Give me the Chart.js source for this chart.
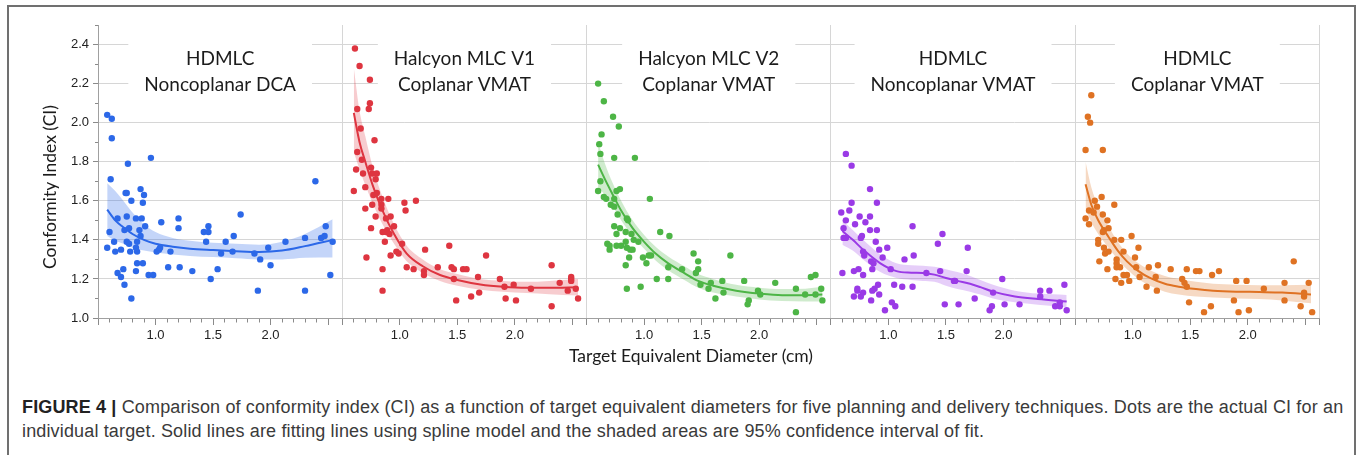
<!DOCTYPE html>
<html>
<head>
<meta charset="utf-8">
<title>Conformity index vs target equivalent diameter</title>
<script src="https://cdn.jsdelivr.net/npm/chart.js@4.4.1/dist/chart.umd.min.js"></script>
<style>
  html, body { margin: 0; padding: 0; background: #fff; overflow: hidden; }
  #wrap { position: relative; width: 1357px; height: 455px; }
  #chart { position: absolute; left: 0; top: 0; }
  #frame { position: absolute; left: 7px; top: 5px; width: 1345px; height: 470px;
           border: 2px solid #707070; pointer-events: none; }
  #caption { position: absolute; left: 22px; top: 395px; white-space: nowrap; letter-spacing: 0.15px;
             font: 18px/24px 'Liberation Sans', Arial, sans-serif; color: #3a3a3a; }
  #caption b { color: #222; }
</style>
</head>
<body>
<div id="wrap">
  <canvas id="chart" width="1357" height="372"></canvas>
  <div id="caption"><b>FIGURE 4 |</b> Comparison of conformity index (CI) as a function of target equivalent diameters for five planning and delivery techniques. Dots are the actual CI for an<br>individual target. Solid lines are fitting lines using spline model and the shaded areas are 95% confidence interval of fit.</div>
  <div id="frame"></div>
</div>
<script>
/**
 * Five side-by-side panels (one stacked x axis each) sharing one CI axis.
 * Values below.
 */

const X_MIN = 0.5;
const X_MAX = 2.624;

// --- HDMLC, noncoplanar DCA ---
const dcaDotX = [0.58,0.62,0.62,0.61,0.60,0.58,0.64,0.65,0.67,0.67, 0.70,0.70,0.72,0.73,0.73,0.74,0.75,0.75,0.75,0.76,
  0.77,0.77,0.78,0.79,0.79,0.83,0.83,0.83,0.84,0.84, 0.84,0.86,0.87,0.87,0.88,0.89,0.89,0.90,0.91,0.94,
  0.96,0.98,1.01,1.03,1.04,1.05,1.11,1.13,1.20,1.20, 1.21,1.32,1.42,1.44,1.46,1.46,1.48,1.54,1.57,1.61,
  1.67,1.68,1.74,1.86,1.89,1.91,1.98,2.00,2.13,2.30, 2.30,2.39,2.44,2.47,2.48,2.52,2.54];
const dcaDotY = [2.04,2.02,1.92,1.71,1.44,1.36,1.39,1.34,1.51,1.23, 1.21,1.35,1.25,1.17,1.45,1.64,1.64,1.52,1.39,1.79,
  1.46,1.38,1.34,1.60,1.10,1.36,1.51,1.24,1.28,1.39, 1.34,1.45,1.66,1.42,1.51,1.59,1.28,1.63,1.47,1.22,
  1.82,1.22,1.34,1.35,1.36,1.49,1.26,1.34,1.51,1.46, 1.26,1.24,1.44,1.39,1.47,1.44,1.20,1.25,1.33,1.39,
  1.34,1.42,1.53,1.33,1.14,1.30,1.36,1.27,1.39,1.41, 1.14,1.70,1.41,1.42,1.47,1.22,1.39];
const dcaFitX  = [0.58,0.65,0.72,0.80,0.90,1.00,1.15,1.30,1.50,1.70,1.90,2.10,2.30,2.54];
const dcaFitY  = [1.555,1.50,1.465,1.43,1.40,1.38,1.365,1.355,1.348,1.342,1.338,1.345,1.368,1.40];
const dcaFitHi = [1.69,1.65,1.60,1.54,1.48,1.44,1.41,1.395,1.385,1.38,1.375,1.39,1.43,1.505];
const dcaFitLo = [1.42,1.395,1.38,1.36,1.345,1.335,1.325,1.318,1.312,1.306,1.30,1.30,1.308,1.31];

// --- Halcyon MLC V1, coplanar VMAT ---
const v1DotX = [0.61,0.65,0.74,0.74,0.73,0.63,0.66,0.78,0.63,0.67, 0.62,0.68,0.75,0.76,0.80,0.79,0.70,0.60,0.80,0.77,
  0.84,0.90,1.14,1.04,0.76,0.84,0.70,1.05,0.79,0.92, 0.88,0.84,0.75,0.89,0.85,0.88,0.91,0.95,0.87,0.71,
  0.92,0.97,0.99,1.02,0.85,1.06,1.12,1.22,1.21,1.21, 1.33,1.43,1.45,1.47,1.47,1.55,1.58,0.85,1.49,1.62,
  1.68,1.69,1.75,1.87,1.91,1.92,1.99,2.01,2.14,2.32, 2.32,2.39,2.49,2.49,2.49,2.46,2.53,2.55];
const v1DotY = [2.38,2.29,2.22,2.10,2.07,2.07,1.97,1.91,1.85,1.81, 1.76,1.74,1.77,1.74,1.74,1.71,1.67,1.65,1.64,1.63,
  1.61,1.61,1.60,1.59,1.58,1.58,1.56,1.55,1.52,1.52, 1.51,1.56,1.46,1.45,1.44,1.44,1.43,1.47,1.39,1.31,
  1.32,1.34,1.33,1.38,1.25,1.26,1.25,1.35,1.24,1.22, 1.26,1.37,1.26,1.25,1.20,1.25,1.25,1.14,1.09,1.11,
  1.21,1.13,1.32,1.20,1.16,1.10,1.17,1.09,1.15,1.27, 1.06,1.18,1.21,1.20,1.19,1.14,1.15,1.10];
const v1FitX  = [0.60,0.65,0.70,0.77,0.85,0.95,1.06,1.20,1.35,1.50,1.70,1.90,2.10,2.30,2.55];
const v1FitY  = [2.05,1.90,1.80,1.67,1.55,1.43,1.33,1.265,1.22,1.195,1.172,1.16,1.155,1.155,1.158];
const v1FitHi = [2.28,2.06,1.93,1.76,1.62,1.48,1.37,1.30,1.25,1.225,1.20,1.19,1.185,1.19,1.20];
const v1FitLo = [1.85,1.76,1.68,1.58,1.48,1.38,1.29,1.23,1.19,1.165,1.145,1.135,1.128,1.122,1.115];

// --- Halcyon MLC V2, coplanar VMAT ---
const v2DotX = [0.60,0.65,0.73,0.78,0.63,0.61,0.62,0.74,0.92,0.62, 0.60,0.65,0.67,0.71,0.74,0.76,0.79,0.74,0.77,0.85,
  0.86,1.05,0.74,0.79,0.76,0.84,0.89,0.91,0.95,1.14, 1.22,0.68,0.70,0.76,0.80,0.84,0.85,0.88,0.90,0.70,
  0.99,1.04,1.06,0.87,0.84,1.02,1.21,1.33,1.11,1.21, 0.85,0.97,1.43,1.47,1.47,1.45,1.49,1.56,1.58,1.62,
  1.68,1.69,1.75,1.87,1.91,1.90,1.99,2.01,2.14,2.32, 2.32,2.40,2.45,2.49,2.49,2.54,2.55];
const v2DotY = [2.20,2.11,2.03,1.98,1.94,1.89,1.84,1.82,1.82,1.70, 1.65,1.62,1.61,1.58,1.61,1.65,1.66,1.57,1.53,1.51,
  1.50,1.61,1.47,1.46,1.43,1.44,1.43,1.40,1.39,1.44, 1.42,1.38,1.37,1.37,1.37,1.39,1.36,1.35,1.35,1.35,
  1.31,1.32,1.32,1.31,1.27,1.28,1.26,1.25,1.20,1.20, 1.15,1.16,1.33,1.29,1.25,1.23,1.17,1.15,1.18,1.10,
  1.19,1.13,1.32,1.19,1.09,1.07,1.14,1.12,1.18,1.15, 1.03,1.12,1.21,1.22,1.12,1.15,1.09];
const v2FitX  = [0.60,0.66,0.72,0.80,0.90,1.00,1.10,1.21,1.35,1.47,1.60,1.80,2.00,2.20,2.40,2.55];
const v2FitY  = [1.785,1.71,1.64,1.55,1.46,1.39,1.33,1.28,1.23,1.19,1.165,1.14,1.125,1.117,1.117,1.12];
const v2FitHi = [1.90,1.79,1.70,1.60,1.50,1.425,1.365,1.315,1.265,1.225,1.20,1.17,1.155,1.148,1.15,1.16];
const v2FitLo = [1.67,1.63,1.58,1.50,1.42,1.355,1.295,1.245,1.195,1.155,1.13,1.11,1.095,1.087,1.085,1.085];

// --- HDMLC, noncoplanar VMAT ---
const ncDotX = [0.63,0.68,0.84,0.68,0.90,0.59,0.66,0.63,0.84,0.75, 0.80,0.71,0.61,0.61,0.63,0.76,0.77,0.84,0.90,0.89,
  0.92,0.78,0.79,0.99,0.95,0.85,0.87,0.86,1.14,1.22, 1.21,1.47,1.43,1.69,1.02,0.60,0.70,0.74,0.78,1.33,
  1.45,1.68,1.57,1.58,0.91,0.88,0.86,1.05,1.12,1.21, 0.73,0.73,0.70,0.76,0.78,0.85,0.92,1.03,1.06,0.97,
  1.49,1.61,1.75,1.91,1.99,2.01,2.14,1.90,1.88,2.32, 2.40,2.32,2.45,2.49,2.49,2.53,2.55];
const ncDotY = [1.84,1.78,1.66,1.59,1.59,1.54,1.55,1.50,1.52,1.52, 1.49,1.48,1.46,1.41,1.41,1.41,1.42,1.45,1.45,1.39,
  1.35,1.34,1.32,1.36,1.31,1.29,1.28,1.25,1.30,1.32, 1.47,1.43,1.38,1.36,1.25,1.23,1.24,1.25,1.22,1.23,
  1.24,1.24,1.19,1.19,1.17,1.15,1.14,1.17,1.16,1.16, 1.15,1.14,1.11,1.11,1.13,1.09,1.12,1.08,1.06,1.04,
  1.07,1.07,1.10,1.13,1.20,1.07,1.07,1.06,1.04,1.14, 1.14,1.11,1.06,1.06,1.08,1.17,1.04];
const ncFitX  = [0.60,0.69,0.78,0.93,1.07,1.20,1.30,1.40,1.50,1.60,1.71,1.80,1.91,2.10,2.30,2.55];
const ncFitY  = [1.445,1.40,1.35,1.28,1.24,1.232,1.23,1.222,1.205,1.19,1.175,1.158,1.135,1.11,1.097,1.085];
const ncFitHi = [1.50,1.45,1.40,1.325,1.28,1.27,1.268,1.262,1.25,1.235,1.215,1.195,1.17,1.14,1.125,1.118];
const ncFitLo = [1.375,1.345,1.30,1.235,1.205,1.195,1.19,1.185,1.165,1.148,1.135,1.12,1.10,1.08,1.068,1.055];

// --- HDMLC, coplanar VMAT ---
const cpDotX = [0.64,0.61,0.63,0.59,0.74,0.73,0.67,0.84,0.62,0.66, 0.69,0.74,0.59,0.78,0.62,0.79,0.75,0.74,0.99,0.70,
  0.70,0.84,0.90,0.75,0.76,0.79,0.92,1.05,1.02,0.71, 0.86,0.86,0.89,0.86,0.78,1.03,1.14,1.22,1.33,0.92,
  0.95,0.85,0.97,1.06,0.90,1.20,1.43,1.47,1.55,1.58, 1.69,1.75,1.12,1.21,1.45,1.47,1.49,1.62,1.68,1.88,
  1.90,1.99,1.92,2.01,2.14,2.32,2.32,2.40,2.46,2.49, 2.49,2.53,2.56];
const cpDotY = [2.14,2.03,2.00,1.86,1.86,1.62,1.60,1.58,1.55,1.54, 1.57,1.53,1.51,1.50,1.48,1.46,1.45,1.44,1.42,1.40,
  1.38,1.40,1.40,1.36,1.33,1.34,1.34,1.36,1.31,1.29, 1.30,1.28,1.26,1.26,1.25,1.26,1.26,1.27,1.25,1.22,
  1.22,1.20,1.19,1.21,1.18,1.21,1.20,1.25,1.24,1.24, 1.22,1.24,1.16,1.14,1.18,1.16,1.08,1.03,1.06,1.09,
  1.19,1.19,1.03,1.04,1.15,1.18,1.09,1.29,1.06,1.13, 1.11,1.18,1.03];
const cpFitX  = [0.59,0.64,0.70,0.79,0.87,0.95,1.05,1.15,1.28,1.40,1.55,1.70,1.90,2.10,2.30,2.55];
const cpFitY  = [1.685,1.58,1.50,1.415,1.345,1.29,1.24,1.205,1.175,1.16,1.148,1.14,1.135,1.133,1.13,1.12];
const cpFitHi = [1.80,1.67,1.57,1.47,1.39,1.33,1.28,1.245,1.215,1.20,1.185,1.175,1.17,1.168,1.168,1.17];
const cpFitLo = [1.56,1.49,1.43,1.36,1.30,1.25,1.20,1.165,1.135,1.12,1.11,1.105,1.10,1.097,1.09,1.075];

const PANELS = [
  { title: ['HDMLC', 'Noncoplanar DCA'],     color: '#2c68e8', band: 'rgba(44,104,232,0.28)',
    dotX: dcaDotX, dotY: dcaDotY, fitX: dcaFitX, fitY: dcaFitY, fitHi: dcaFitHi, fitLo: dcaFitLo },
  { title: ['Halcyon MLC V1', 'Coplanar VMAT'], color: '#de3540', band: 'rgba(222,53,64,0.25)',
    dotX: v1DotX, dotY: v1DotY, fitX: v1FitX, fitY: v1FitY, fitHi: v1FitHi, fitLo: v1FitLo },
  { title: ['Halcyon MLC V2', 'Coplanar VMAT'], color: '#4db546', band: 'rgba(77,181,70,0.27)',
    dotX: v2DotX, dotY: v2DotY, fitX: v2FitX, fitY: v2FitY, fitHi: v2FitHi, fitLo: v2FitLo },
  { title: ['HDMLC', 'Noncoplanar VMAT'],    color: '#9a3ae6', band: 'rgba(154,58,230,0.25)',
    dotX: ncDotX, dotY: ncDotY, fitX: ncFitX, fitY: ncFitY, fitHi: ncFitHi, fitLo: ncFitLo },
  { title: ['HDMLC', 'Coplanar VMAT'],       color: '#df7223', band: 'rgba(223,114,35,0.27)',
    dotX: cpDotX, dotY: cpDotY, fitX: cpFitX, fitY: cpFitY, fitHi: cpFitHi, fitLo: cpFitLo },
];

const X_TITLE = 'Target Equivalent Diameter (cm)';
const Y_TITLE = 'Conformity Index (CI)';

const TICK_FONT  = { family: 'Liberation Sans', size: 13 };
const TITLE_FONT = '19px Lato';
const AXIS_FONT  = '17.5px Lato';
const GRID  = '#d6d6d6';
const TICKS = '#8a8a8a';
const CLEAR = 'rgba(0,0,0,0)';

const xy = (xs, ys) => xs.map((x, i) => ({ x, y: ys[i] }));
const tenths = v => Math.round(v * 10);

/** four datasets per panel: CI upper edge, CI lower edge (filled up to the upper one), fitted spline, dots */
function panelDatasets(p, i) {
  const xAxisID = 'x' + i;
  const curve = { xAxisID, pointRadius: 0, cubicInterpolationMode: 'monotone', tension: 0.4 };
  return [
    { ...curve, label: p.title.join(' ') + ' CI upper', data: xy(p.fitX, p.fitHi),
      borderWidth: 0, fill: false, order: 2 },
    { ...curve, label: p.title.join(' ') + ' CI lower', data: xy(p.fitX, p.fitLo),
      borderWidth: 0, fill: '-1', backgroundColor: p.band, order: 2 },
    { ...curve, label: p.title.join(' ') + ' fit', data: xy(p.fitX, p.fitY),
      borderColor: p.color, borderWidth: 2, fill: false, order: 1 },
    { label: p.title.join(' '), data: xy(p.dotX, p.dotY), xAxisID, showLine: false,
      pointRadius: 3.2, pointBorderWidth: 0, pointBackgroundColor: p.color, order: 0 },
  ];
}

/** panel x axis: 0.1 minor ticks, long ticks on the halves and at the panel edges */
function panelScale(i) {
  const isEdge = ctx => ctx.index === 0 || ctx.index === ctx.scale.ticks.length - 1;
  const isMajor = ctx => isEdge(ctx) || tenths(ctx.tick.value) % 5 === 0;
  return {
    type: 'linear', position: 'bottom', stack: 'panels', stackWeight: 1,
    min: X_MIN, max: X_MAX,
    ticks: {
      stepSize: 0.1, autoSkip: false, maxRotation: 0, minRotation: 0,
      color: '#222', font: TICK_FONT, padding: 3,
      callback: v => [10, 15, 20].includes(tenths(v)) ? (tenths(v) / 10).toFixed(1) : '',
    },
    grid: {
      color: ctx => (isEdge(ctx) && !(i === 0 && ctx.index === 0)) ? GRID : CLEAR,
      tickColor: TICKS, tickLength: 7,
      tickBorderDash: ctx => isMajor(ctx) ? [] : [3.5, 20],
    },
    border: { color: '#a0a0a0' },
    afterFit: s => { s.height = 30; },
  };
}

const scales = {
  y: {
    min: 1.0, max: 2.5,
    ticks: {
      stepSize: 0.1, autoSkip: false, color: '#222', font: TICK_FONT, padding: 4,
      callback: v => (tenths(v) % 2 === 0 && tenths(v) <= 24) ? (tenths(v) / 10).toFixed(1) : '',
    },
    grid: {
      color: ctx => { const t = tenths(ctx.tick.value); return (t % 2 === 0 && t > 10 && t <= 24) ? GRID : CLEAR; },
      tickColor: TICKS, tickLength: 5,
      tickBorderDash: ctx => tenths(ctx.tick.value) % 2 === 0 ? [] : [0, 2, 3, 20],
    },
    border: { color: '#a0a0a0' },
    afterFit: s => { s.width = 60; },
  },
};
PANELS.forEach((p, i) => { scales['x' + i] = panelScale(i); });

/** panel headings on a white patch over the grid, plus the shared axis titles */
const panelText = {
  id: 'panelText',
  beforeDatasetsDraw(chart) {
    const { ctx, chartArea } = chart;
    ctx.save();
    ctx.font = TITLE_FONT;
    ctx.textAlign = 'center';
    PANELS.forEach((p, i) => {
      const sc = chart.scales['x' + i];
      const cx = (sc.left + sc.right) / 2;
      const w = Math.max(...p.title.map(t => ctx.measureText(t).width)) + 32;
      ctx.fillStyle = '#fff';
      ctx.fillRect(cx - w / 2, chartArea.top + 2, w, 76);
      ctx.fillStyle = '#1c1c1c';
      ctx.fillText(p.title[0], cx, chartArea.top + 40);
      ctx.fillText(p.title[1], cx, chartArea.top + 66);
    });
    ctx.restore();
  },
  afterDraw(chart) {
    const { ctx, chartArea } = chart;
    ctx.save();
    ctx.font = AXIS_FONT;
    ctx.fillStyle = '#1c1c1c';
    ctx.textAlign = 'center';
    ctx.fillText(X_TITLE, 691, chartArea.bottom + 44);
    ctx.translate(50, 187);
    ctx.rotate(-Math.PI / 2);
    ctx.textBaseline = 'middle';
    ctx.fillText(Y_TITLE, 0, 0);
    ctx.restore();
  },
};

new Chart(document.getElementById('chart'), {
  type: 'line',
  data: { datasets: PANELS.flatMap(panelDatasets) },
  options: {
    responsive: false,
    animation: false,
    events: [],
    layout: { padding: { left: 38, right: 37.5, top: 25, bottom: 24 } },
    plugins: { legend: { display: false }, tooltip: { enabled: false } },
    scales,
  },
  plugins: [panelText],
});
</script>
</body>
</html>
